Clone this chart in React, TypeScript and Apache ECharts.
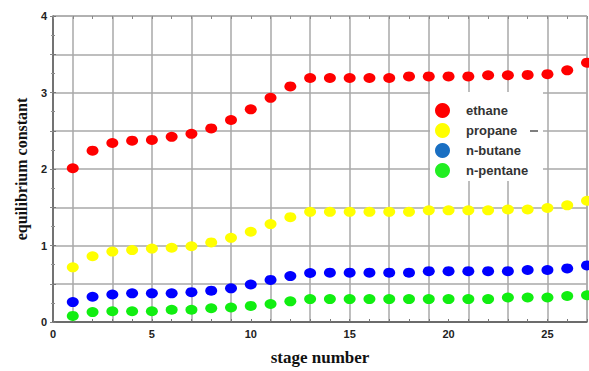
import React, { useEffect, useRef } from "react";
import * as echarts from "echarts";

// Stage numbers along the column
const stages: number[] = Array.from({ length: 27 }, (_, i) => i + 1);

// Equilibrium constant (K) per stage for each component
const ethane: number[] = [
  2.01, 2.24, 2.34, 2.37, 2.38, 2.42, 2.46, 2.53, 2.64, 2.78, 2.93, 3.08, 3.19, 3.19,
  3.19, 3.19, 3.19, 3.21, 3.21, 3.21, 3.21, 3.225, 3.225, 3.23, 3.24, 3.29, 3.39,
];
const propane: number[] = [
  0.715, 0.86, 0.92, 0.94, 0.96, 0.97, 0.99, 1.04, 1.1, 1.18, 1.28, 1.37, 1.44, 1.44,
  1.44, 1.44, 1.44, 1.44, 1.46, 1.46, 1.46, 1.46, 1.47, 1.47, 1.49, 1.525, 1.585,
];
const nButane: number[] = [
  0.26, 0.33, 0.36, 0.375, 0.375, 0.375, 0.39, 0.41, 0.44, 0.49, 0.55, 0.6, 0.64, 0.645,
  0.645, 0.645, 0.645, 0.645, 0.665, 0.665, 0.665, 0.665, 0.665, 0.68, 0.68, 0.7, 0.74,
];
const nPentane: number[] = [
  0.08, 0.13, 0.14, 0.14, 0.14, 0.16, 0.16, 0.18, 0.19, 0.21, 0.235, 0.27, 0.3, 0.3,
  0.3, 0.3, 0.3, 0.3, 0.3, 0.3, 0.3, 0.3, 0.32, 0.32, 0.32, 0.34, 0.35,
];

// Vertical grid lines sit on the odd stage numbers
const xGridValues: number[] = [1, 3, 5, 7, 9, 11, 13, 15, 17, 19, 21, 23, 25, 27];

const seriesNames = ["ethane", "propane", "n-butane", "n-pentane"];
const seriesColors = ["#ff0000", "#ffff00", "#0000ff", "#11ee11"];
const legendColors = ["#ff0000", "#ffff00", "#1a6fc2", "#22ee22"];

const pairs = (ys: number[]) => stages.map((s, i) => [s, ys[i]]);

export default function App() {
  const ref = useRef<HTMLDivElement>(null);

  useEffect(() => {
    if (!ref.current) return;
    const chart = echarts.init(ref.current, undefined, { renderer: "svg" });
    const gridColor = "#a9a9a9";
    const labelFont = {
      fontFamily: "Liberation Sans",
      fontSize: 11,
      fontWeight: "bold" as const,
      color: "#222",
    };
    const allSeries = [ethane, propane, nButane, nPentane];

    chart.setOption({
      animation: false,
      backgroundColor: "#ffffff",
      grid: {
        left: 53,
        top: 16,
        right: 2,
        bottom: 49,
        show: true,
        borderColor: "#9a9a9a",
        borderWidth: 1,
        backgroundColor: "#ffffff",
      },
      xAxis: [
        {
          type: "value",
          min: 0,
          max: 27,
          interval: 5,
          position: "bottom",
          name: "stage number",
          nameLocation: "middle",
          nameGap: 27,
          nameTextStyle: {
            fontFamily: "Liberation Serif",
            fontWeight: "bold",
            fontSize: 17,
            color: "#111",
          },
          axisLine: { show: true, lineStyle: { color: "#555", width: 1.5 } },
          axisTick: { show: true, inside: true, length: 3, lineStyle: { color: "#777" } },
          minorTick: { show: true, splitNumber: 5, length: 3, lineStyle: { color: "#777" } },
          splitLine: { show: false },
          axisLabel: { ...labelFont, margin: 6, showMaxLabel: false },
        },
        {
          type: "value",
          min: 0,
          max: 27,
          position: "top",
          axisLine: { show: false },
          axisTick: { show: false, customValues: xGridValues },
          axisLabel: { show: false },
          splitLine: { show: true, lineStyle: { color: gridColor, width: 1.5 } },
        },
        {
          type: "value",
          min: 0,
          max: 27,
          interval: 1,
          position: "top",
          axisLine: { show: false },
          axisTick: { show: true, inside: true, length: 3, lineStyle: { color: "#888" } },
          axisLabel: { show: false },
          splitLine: { show: false },
        },
      ],
      yAxis: [
        {
          type: "value",
          min: 0,
          max: 4,
          interval: 0.5,
          name: "equilibrium constant",
          nameLocation: "middle",
          nameGap: 18,
          nameTextStyle: {
            fontFamily: "Liberation Serif",
            fontWeight: "bold",
            fontSize: 16,
            color: "#111",
          },
          axisLine: { show: true, lineStyle: { color: "#555", width: 1.5 } },
          axisTick: { show: true, inside: true, length: 3, lineStyle: { color: "#777" } },
          minorTick: { show: true, splitNumber: 2, length: 2, lineStyle: { color: "#888" } },
          splitLine: { show: true, lineStyle: { color: gridColor, width: 1.5 } },
          axisLabel: {
            ...labelFont,
            margin: 6,
            formatter: (v: number) => (Number.isInteger(v) ? String(v) : ""),
          },
        },
        {
          type: "value",
          min: 0,
          max: 4,
          interval: 0.5,
          position: "right",
          axisLine: { show: false },
          axisTick: { show: true, inside: true, length: 3, lineStyle: { color: "#888" } },
          minorTick: { show: true, splitNumber: 2, length: 2, lineStyle: { color: "#999" } },
          axisLabel: { show: false },
          splitLine: { show: false },
        },
      ],
      legend: {
        orient: "vertical",
        left: 430,
        top: 92,
        padding: [11, 6, 4, 5],
        itemWidth: 17,
        itemHeight: 15,
        itemGap: 5,
        icon: "circle",
        data: seriesNames.map((n, i) => ({
          name: n,
          itemStyle: { color: legendColors[i] },
        })),
        textStyle: {
          fontFamily: "Liberation Sans",
          fontSize: 13,
          fontWeight: "bold",
          color: "#333",
          padding: [0, 0, 0, 10],
        },
      },
      graphic: [
        {
          type: "rect",
          z: 1,
          shape: { x: 430, y: 92, width: 113, height: 89 },
          style: { fill: "#ffffff" },
        },
        {
          type: "line",
          z: 1,
          shape: { x1: 530, y1: 131, x2: 538, y2: 131 },
          style: { stroke: "#555", lineWidth: 1.5 },
        },
      ],
      series: allSeries.map((ys, i) => ({
        name: seriesNames[i],
        type: "scatter",
        xAxisIndex: 0,
        yAxisIndex: 0,
        symbol: "circle",
        symbolSize: [12, 10],
        itemStyle: { color: seriesColors[i], opacity: 1 },
        data: pairs(ys),
        z: 3,
      })),
    });

    return () => chart.dispose();
  }, []);

  return (
    <div
      ref={ref}
      style={{ position: "fixed", left: 0, top: 0, width: 589, height: 371 }}
    />
  );
}
